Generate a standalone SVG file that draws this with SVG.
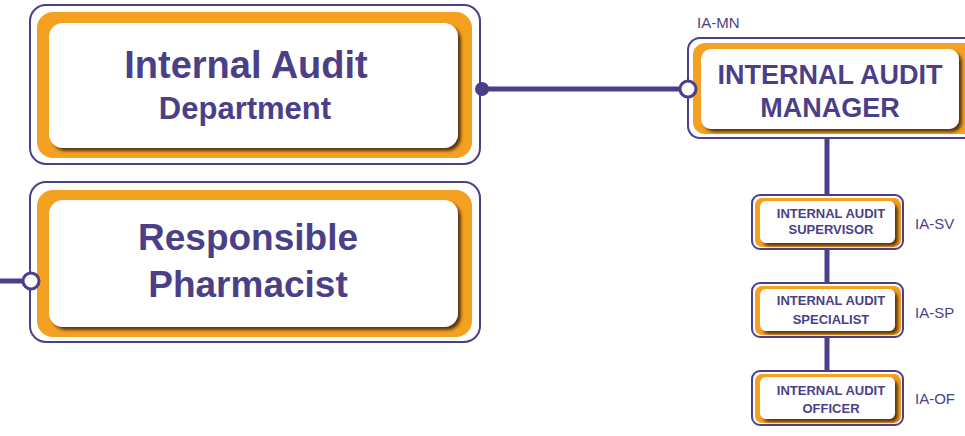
<svg xmlns="http://www.w3.org/2000/svg" width="965" height="436" viewBox="0 0 965 436">
<defs>
<filter id="sh" x="-10%" y="-10%" width="125%" height="135%">
<feDropShadow dx="3" dy="3" stdDeviation="1.5" flood-color="#4a2e08" flood-opacity="0.9"/>
</filter>
</defs>
<style>
.outer{fill:#fff;stroke:#4b3f8a;stroke-width:2}
.orange{fill:#f4a021}
.inner{fill:#fff;filter:url(#sh)}
.t{font-family:"Liberation Sans",Arial,sans-serif;font-weight:bold;fill:#4a3f88;text-anchor:middle}
.lbl{font-family:"Liberation Sans",Arial,sans-serif;fill:#4a3f88;font-size:15px}
.wire{stroke:#4b3f8a;stroke-width:5;fill:none}
.open{fill:#fff;stroke:#4b3f8a;stroke-width:3}
.dot{fill:#4b3f8a}
</style>
<rect width="965" height="436" fill="#fff"/>
<g id="dept">
<rect class="outer" x="30" y="5" width="450" height="159" rx="16"/>
<rect class="orange" x="37" y="12" width="435" height="146" rx="16"/>
<rect class="inner" x="49" y="23" width="409" height="125" rx="14"/>
<text class="t" x="246" y="78" font-size="38">Internal Audit</text>
<text class="t" x="245" y="119" font-size="31">Department</text>
</g>
<g id="pharm">
<rect class="outer" x="30" y="182" width="450" height="160" rx="16"/>
<rect class="orange" x="37" y="190" width="435" height="147" rx="16"/>
<rect class="inner" x="49" y="200" width="409" height="127" rx="14"/>
<text class="t" x="248" y="250" font-size="37">Responsible</text>
<text class="t" x="248" y="297" font-size="37">Pharmacist</text>
</g>
<g id="mn">
<text class="lbl" x="697" y="28">IA-MN</text>
<rect class="outer" x="688" y="38" width="300" height="100" rx="12"/>
<rect class="orange" x="693" y="43" width="290" height="91" rx="12"/>
<rect class="inner" x="701" y="49" width="258" height="80" rx="10"/>
<text class="t" x="830" y="84" font-size="27">INTERNAL AUDIT</text>
<text class="t" x="830" y="117" font-size="27">MANAGER</text>
</g>
<g id="sv">
<rect class="outer" x="752" y="195" width="151" height="54" rx="8"/>
<rect class="orange" x="755" y="198" width="146" height="49" rx="7"/>
<rect class="inner" x="760" y="201" width="135" height="42" rx="6"/>
<text class="t" x="831" y="218" font-size="13">INTERNAL AUDIT</text>
<text class="t" x="831" y="234" font-size="13">SUPERVISOR</text>
<text class="lbl" x="915" y="229">IA-SV</text>
</g>
<g id="sp">
<rect class="outer" x="752" y="283" width="151" height="54" rx="8"/>
<rect class="orange" x="755" y="286" width="146" height="49" rx="7"/>
<rect class="inner" x="760" y="289" width="135" height="42" rx="6"/>
<text class="t" x="831" y="305" font-size="13">INTERNAL AUDIT</text>
<text class="t" x="831" y="324" font-size="13">SPECIALIST</text>
<text class="lbl" x="915" y="318">IA-SP</text>
</g>
<g id="of">
<rect class="outer" x="752" y="371" width="151" height="54" rx="8"/>
<rect class="orange" x="755" y="374" width="146" height="49" rx="7"/>
<rect class="inner" x="760" y="377" width="135" height="42" rx="6"/>
<text class="t" x="831" y="395" font-size="13">INTERNAL AUDIT</text>
<text class="t" x="831" y="413" font-size="13">OFFICER</text>
<text class="lbl" x="915" y="404">IA-OF</text>
</g>
<g id="connectors">
<line class="wire" x1="482" y1="89" x2="680" y2="89"/>
<circle class="dot" cx="482" cy="89" r="7"/>
<circle class="open" cx="688" cy="89" r="8"/>
<line class="wire" x1="0" y1="281" x2="23" y2="281"/>
<circle class="open" cx="31" cy="281" r="8"/>
<line class="wire" x1="827" y1="139" x2="827" y2="195"/>
<line class="wire" x1="827" y1="249" x2="827" y2="283"/>
<line class="wire" x1="827" y1="337" x2="827" y2="371"/>
</g>
</svg>
